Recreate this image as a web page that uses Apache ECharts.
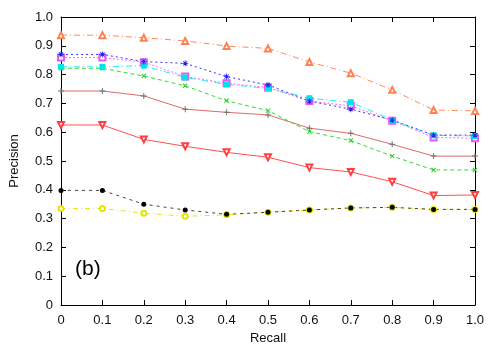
<!DOCTYPE html>
<html>
<head>
<meta charset="utf-8">
<script src="https://cdn.jsdelivr.net/npm/echarts@6/dist/echarts.min.js"></script>
<style>
html,body{margin:0;padding:0;background:#fff;}
#chart{width:500px;height:350px;}
</style>
</head>
<body>
<div id="chart"></div>
<script>
const recall = [0, 0.1, 0.2, 0.3, 0.4, 0.5, 0.6, 0.7, 0.8, 0.9, 1.0];
const tickValues = [0, 0.1, 0.2, 0.3, 0.4, 0.5, 0.6, 0.7, 0.8, 0.9, 1.0];

const orangeTri   = [0.937, 0.937, 0.928, 0.917, 0.899, 0.891, 0.844, 0.805, 0.747, 0.677, 0.674];
const blueStar    = [0.870, 0.870, 0.845, 0.839, 0.793, 0.764, 0.708, 0.680, 0.642, 0.590, 0.590];
const magentaSq   = [0.859, 0.859, 0.843, 0.793, 0.770, 0.755, 0.708, 0.691, 0.640, 0.582, 0.579];
const cyanSq      = [0.827, 0.827, 0.831, 0.790, 0.766, 0.752, 0.718, 0.704, 0.642, 0.589, 0.587];
const greenX      = [0.822, 0.822, 0.795, 0.761, 0.709, 0.675, 0.602, 0.571, 0.517, 0.469, 0.469];
const grayPlus    = [0.743, 0.743, 0.726, 0.680, 0.669, 0.660, 0.614, 0.596, 0.558, 0.517, 0.517];
const redInvTri   = [0.625, 0.625, 0.575, 0.551, 0.530, 0.513, 0.477, 0.462, 0.428, 0.380, 0.382];
const blackDot    = [0.398, 0.398, 0.350, 0.330, 0.315, 0.322, 0.330, 0.337, 0.339, 0.332, 0.332];
const yellowCirc  = [0.335, 0.335, 0.319, 0.308, 0.313, 0.322, 0.330, 0.337, 0.339, 0.332, 0.332];

const pair = arr => arr.map((v, i) => [recall[i], v]);
const fmt = v => (v === 0 ? '0' : v.toFixed(1));

const plusPath = 'path://M4.2,0H5.8V10H4.2Z M0,4.2H10V5.8H0Z';
const starPath = 'path://M4.3,0H5.7V10H4.3Z M0,4.3H10V5.7H0Z M1,2L2,1L9,8L8,9Z M8,1L9,2L2,9L1,8Z';

function mk(name, data, lineColor, markColor, symbol, size, dash, extra) {
  return Object.assign({
    name: name,
    type: 'line',
    data: pair(data),
    symbol: symbol,
    symbolSize: size,
    lineStyle: { color: lineColor, width: 1, type: dash },
    itemStyle: { color: markColor, borderWidth: 1 },
    emphasis: { disabled: true },
    animation: false
  }, extra || {});
}

const series = [
  mk('yellow', yellowCirc, '#eaea00', '#e5e500', 'emptyCircle', 5, [5, 3, 1, 3]),
  mk('black', blackDot, '#444444', '#000000', 'circle', 5, [3, 4]),
  mk('red', redInvTri, '#ff5050', '#ff4040', 'emptyTriangle', 6, 'solid', { symbolRotate: 180 }),
  mk('gray', grayPlus, '#e06a6a', '#707070', plusPath, 6, 'solid'),
  mk('green', greenX, '#33dd33', '#22cc22', plusPath, 6, [4, 3], { symbolRotate: 45 }),
  mk('magenta', magentaSq, '#ff66ff', '#ee55ee', 'emptyRect', 6, [2, 2]),
  mk('cyan', cyanSq, '#22eeee', '#00e5e5', 'rect', 6, [6, 3, 1, 3]),
  mk('blue', blueStar, '#3333ff', '#2222ee', starPath, 6, [2, 3]),
  mk('orange', orangeTri, '#ff8a5a', '#ff8050', 'emptyTriangle', 6, [6, 3, 1, 3])
];

const axisFont = { color: '#111', fontSize: 13, fontFamily: 'Liberation Sans, Arial, sans-serif' };

const chart = echarts.init(document.getElementById('chart'), null, { renderer: 'canvas' });
chart.setOption({
  animation: false,
  backgroundColor: '#fff',
  grid: { left: 60, right: 25, top: 17, bottom: 45, containLabel: false },
  xAxis: [
    {
      type: 'value', min: 0, max: 1, interval: 0.1, position: 'bottom',
      name: 'Recall', nameLocation: 'middle', nameGap: 22,
      nameTextStyle: axisFont,
      axisLine: { show: true, onZero: false, lineStyle: { color: '#000', width: 1 } },
      axisTick: { show: true, inside: true, length: 5, lineStyle: { color: '#000' } },
      axisLabel: Object.assign({ margin: 9, formatter: fmt }, axisFont),
      splitLine: { show: false }
    },
    {
      type: 'value', min: 0, max: 1, interval: 0.1, position: 'top',
      axisLine: { show: true, onZero: false, lineStyle: { color: '#000', width: 1 } },
      axisTick: { show: true, inside: true, length: 5, lineStyle: { color: '#000' } },
      axisLabel: { show: false },
      splitLine: { show: false }
    }
  ],
  yAxis: [
    {
      type: 'value', min: 0, max: 1, interval: 0.1, position: 'left',
      name: 'Precision', nameLocation: 'middle', nameGap: 40,
      nameTextStyle: axisFont,
      axisLine: { show: true, onZero: false, lineStyle: { color: '#000', width: 1 } },
      axisTick: { show: true, inside: true, length: 5, lineStyle: { color: '#000' } },
      axisLabel: Object.assign({ margin: 8, formatter: fmt }, axisFont),
      splitLine: { show: false }
    },
    {
      type: 'value', min: 0, max: 1, interval: 0.1, position: 'right',
      axisLine: { show: true, onZero: false, lineStyle: { color: '#000', width: 1 } },
      axisTick: { show: true, inside: true, length: 5, lineStyle: { color: '#000' } },
      axisLabel: { show: false },
      splitLine: { show: false }
    }
  ],
  graphic: [
    {
      type: 'text', left: 75, top: 259,
      style: { text: '(b)', fontSize: 21, fill: '#000', fontFamily: 'Liberation Sans, Arial, sans-serif' }
    }
  ],
  series: series
});
</script>
</body>
</html>
